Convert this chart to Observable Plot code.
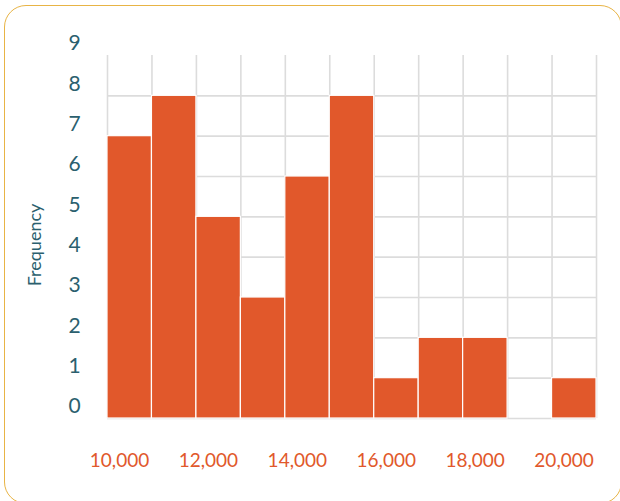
<!DOCTYPE html>
<html>
<head>
<meta charset="utf-8">
<script src="https://cdn.jsdelivr.net/npm/d3@7"></script>
<script src="https://cdn.jsdelivr.net/npm/@observablehq/plot@0.6"></script>
<style>
  html, body { margin: 0; padding: 0; background: #fff; }
  body { width: 620px; height: 501px; overflow: hidden; position: relative; font-family: Lato, sans-serif; }
  #frame {
    position: absolute; left: 4px; top: 5px; width: 618px; height: 499px;
    border: 1.5px solid #E8B445; border-radius: 22px; box-sizing: border-box;
    background: #fff;
  }
  #chart { position: absolute; left: 0; top: 0; }
</style>
</head>
<body>
<div id="frame"></div>
<div id="chart"></div>
<script>
// Data
const binStarts = [10000, 11000, 12000, 13000, 14000, 15000, 16000, 17000, 18000, 19000, 20000];
const binEnds   = [11000, 12000, 13000, 14000, 15000, 16000, 17000, 18000, 19000, 20000, 21000];
const counts    = [7, 8, 5, 3, 6, 8, 1, 2, 2, 0, 1];
const yTicks    = [0, 1, 2, 3, 4, 5, 6, 7, 8, 9];
const xTicks    = [10000, 12000, 14000, 16000, 18000, 20000];
const gridY     = [0, 1, 2, 3, 4, 5, 6, 7, 8];
const gridX     = [10000, 11000, 12000, 13000, 14000, 15000, 16000, 17000, 18000, 19000, 20000, 21000];
const yLabel    = "Frequency";

const bins = binStarts.map((s, i) => ({start: s, end: binEnds[i], count: counts[i]}));

const orange = "#E1582B";
const teal = "#2B5F6E";
const grid = "#dcdcdc";

const chart = Plot.plot({
  width: 620,
  height: 501,
  marginLeft: 107,
  marginRight: 24,
  marginTop: 55,
  marginBottom: 83,
  style: {fontFamily: "Lato, sans-serif", background: "transparent"},
  x: {domain: [10000, 21000]},
  y: {domain: [0, 9]},
  marks: [
    Plot.ruleY(gridY, {x1: 10000, x2: 21000, stroke: grid, strokeWidth: 1.6}),
    Plot.ruleX(gridX, {y1: 0, y2: 9, stroke: grid, strokeWidth: 1.6}),
    Plot.rectY(bins, {x1: "start", x2: "end", y: "count", fill: orange, stroke: "#fff", strokeWidth: 1.2}),
    Plot.axisY(yTicks, {tickSize: 0, tickPadding: 0, textAnchor: "middle", dx: -33, dy: -12,
      fontSize: 21, color: teal, label: null}),
    Plot.axisX(xTicks, {tickSize: 0, tickPadding: 0, tickFormat: d3.format(","), dx: 12, dy: 35,
      fontSize: 19, color: orange, label: null}),
    Plot.text([yLabel], {frameAnchor: "left", textAnchor: "middle", dx: -72, dy: 8, rotate: -90,
      fontSize: 18, fill: teal})
  ]
});
document.getElementById("chart").appendChild(chart);
</script>
</body>
</html>
